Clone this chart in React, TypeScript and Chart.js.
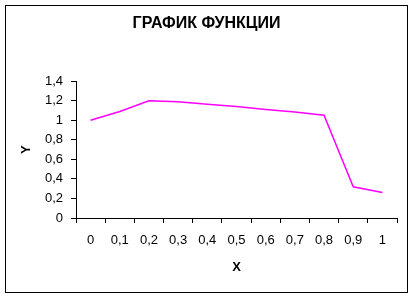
import React, { useEffect, useRef } from "react";
import { Chart, registerables } from "chart.js";

Chart.register(...registerables);

const xLabels = ["0", "0,1", "0,2", "0,3", "0,4", "0,5", "0,6", "0,7", "0,8", "0,9", "1"];
const yValues = [1.0, 1.09, 1.2, 1.19, 1.165, 1.14, 1.11, 1.086, 1.052, 0.32, 0.26];
const titleText = "ГРАФИК ФУНКЦИИ";
const xTitle = "X";
const yTitle = "Y";

const FONT = "'Liberation Sans', Arial, sans-serif";

const framePlugin = {
  id: "frame",
  afterDraw(chart: any) {
    const ctx = chart.ctx;
    ctx.save();
    ctx.strokeStyle = "#000";
    ctx.lineWidth = 1;
    ctx.strokeRect(5.5, 5.5, chart.width - 11, chart.height - 11);
    ctx.restore();
  },
};

export default function App() {
  const ref = useRef<HTMLCanvasElement>(null);
  useEffect(() => {
    if (!ref.current) return;
    const chart = new Chart(ref.current, {
      type: "line",
      data: {
        labels: xLabels,
        datasets: [
          {
            data: yValues,
            borderColor: "#FF00FF",
            borderWidth: 1.5,
            pointRadius: 0,
            tension: 0,
            fill: false,
          },
        ],
      },
      options: {
        responsive: false,
        animation: false,
        layout: { padding: { left: 16, right: 16, top: 0, bottom: 0 } },
        plugins: {
          legend: { display: false },
          tooltip: { enabled: false },
          title: {
            display: true,
            text: titleText,
            color: "#000",
            font: { family: FONT, size: 16, weight: "bold" },
            padding: { top: 14, bottom: 48 },
          },
        },
        scales: {
          x: {
            type: "category",
            offset: true,
            grid: {
              offset: true,
              drawOnChartArea: false,
              drawTicks: true,
              tickLength: 5,
              color: "#000",
            },
            border: { display: true, color: "#000", width: 1 },
            ticks: {
              color: "#000",
              font: { family: FONT, size: 13 },
              padding: 10,
              maxRotation: 0,
              autoSkip: false,
            },
            title: {
              display: true,
              text: xTitle,
              color: "#000",
              font: { family: FONT, size: 13, weight: "bold" },
              padding: { top: 0, bottom: 23 },
            },
            afterFit: (s: any) => {
              s.height = 80;
            },
          },
          y: {
            min: 0,
            max: 1.4,
            grid: {
              drawOnChartArea: false,
              drawTicks: true,
              tickLength: 5,
              color: "#000",
            },
            border: { display: true, color: "#000", width: 1 },
            ticks: {
              stepSize: 0.2,
              color: "#000",
              font: { family: FONT, size: 13 },
              padding: 8,
              callback: (v: any) => String(Math.round(Number(v) * 10) / 10).replace(".", ","),
            },
            title: {
              display: true,
              text: yTitle,
              color: "#000",
              font: { family: FONT, size: 13, weight: "bold" },
              padding: { top: 3, bottom: 0 },
            },
            afterFit: (s: any) => {
              s.width = 60;
            },
          },
        },
      },
      plugins: [framePlugin],
    });
    return () => chart.destroy();
  }, []);
  return (
    <div style={{ position: "absolute", left: 0, top: 0, width: 413, height: 298 }}>
      <canvas ref={ref} width={413} height={298} />
    </div>
  );
}
